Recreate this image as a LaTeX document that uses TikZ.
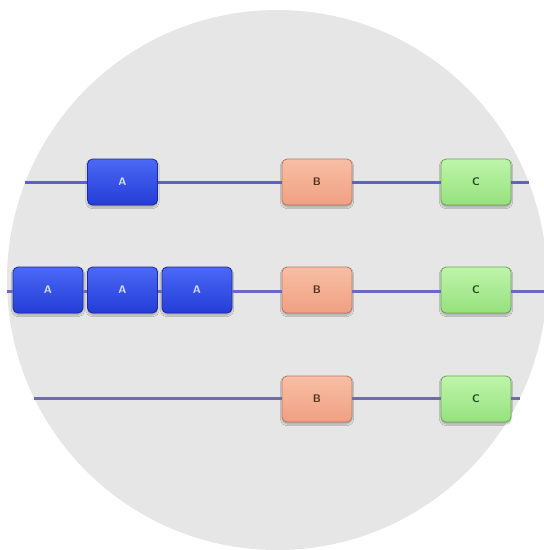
\documentclass[tikz,border=0pt]{standalone}
\usetikzlibrary{shadows.blur}
\definecolor{bgc}{RGB}{230,230,230}
\definecolor{aTop}{RGB}{75,105,245}
\definecolor{aBot}{RGB}{35,60,215}
\definecolor{aBorder}{RGB}{30,40,160}
\definecolor{aText}{RGB}{210,220,255}
\definecolor{bTop}{RGB}{248,190,165}
\definecolor{bBot}{RGB}{240,160,130}
\definecolor{bBorder}{RGB}{185,120,100}
\definecolor{bText}{RGB}{80,50,30}
\definecolor{cTop}{RGB}{190,245,170}
\definecolor{cBot}{RGB}{150,225,125}
\definecolor{cBorder}{RGB}{110,165,90}
\definecolor{cText}{RGB}{35,75,30}
\definecolor{lineA}{RGB}{95,95,205}
\definecolor{lineB}{RGB}{105,105,195}
\definecolor{lineC}{RGB}{110,110,165}
\tikzset{
  blockbox/.style={rounded corners=5pt, minimum width=70pt, minimum height=46pt,
    line width=0.8pt, inner sep=0pt, font=\sffamily\bfseries\fontsize{11}{13}\selectfont,
    blur shadow={shadow xshift=0pt, shadow yshift=-2pt, shadow blur steps=5, shadow opacity=30}},
  ablock/.style={blockbox, draw=aBorder, top color=aTop, bottom color=aBot, text=aText},
  bblock/.style={blockbox, draw=bBorder, top color=bTop, bottom color=bBot, text=bText},
  cblock/.style={blockbox, draw=cBorder, top color=cTop, bottom color=cBot, text=cText},
  track/.style={line width=3pt}
}
\begin{document}
\begin{tikzpicture}[x=1pt,y=-1pt]
\clip (0,0) rectangle (544,550);
\fill[bgc] (277,280) circle[radius=270];
% free ends on the circle
\coordinate (L1) at (25.4,182);
\coordinate (R1) at (528.6,182);
\coordinate (L2) at (7.2,291);
\coordinate (R2) at (544,291);
\coordinate (L3) at (34.2,398);
\coordinate (R3) at (519.8,398);
% row 1
\node[ablock] (a1) at (122.5,182) {A};
\node[bblock] (b1) at (317,182) {B};
\node[cblock] (c1) at (476,182) {C};
% row 2
\node[ablock] (a21) at (48,290) {A};
\node[ablock] (a22) at (122.5,290) {A};
\node[ablock] (a23) at (197,290) {A};
\node[bblock] (b2) at (317,290) {B};
\node[cblock] (c2) at (476,290) {C};
% row 3
\node[bblock] (b3) at (317,399) {B};
\node[cblock] (c3) at (476,399) {C};
% tracks
\draw[track, lineA] (L1) -- (a1.west);
\draw[track, lineA] (a1.east) -- (b1.west);
\draw[track, lineA] (b1.east) -- (c1.west);
\draw[track, lineA] (c1.east) -- (R1);
\draw[track, lineB] (L2) -- (a21.west |- L2);
\draw[track, lineB] (a21.east |- L2) -- (a22.west |- L2);
\draw[track, lineB] (a22.east |- L2) -- (a23.west |- L2);
\draw[track, lineB] (a23.east |- L2) -- (b2.west |- L2);
\draw[track, lineB] (b2.east |- L2) -- (c2.west |- L2);
\draw[track, lineB] (c2.east |- L2) -- (R2);
\draw[track, lineC] (L3) -- (b3.west |- L3);
\draw[track, lineC] (b3.east |- L3) -- (c3.west |- L3);
\draw[track, lineC] (c3.east |- L3) -- (R3);
\end{tikzpicture}
\end{document}
